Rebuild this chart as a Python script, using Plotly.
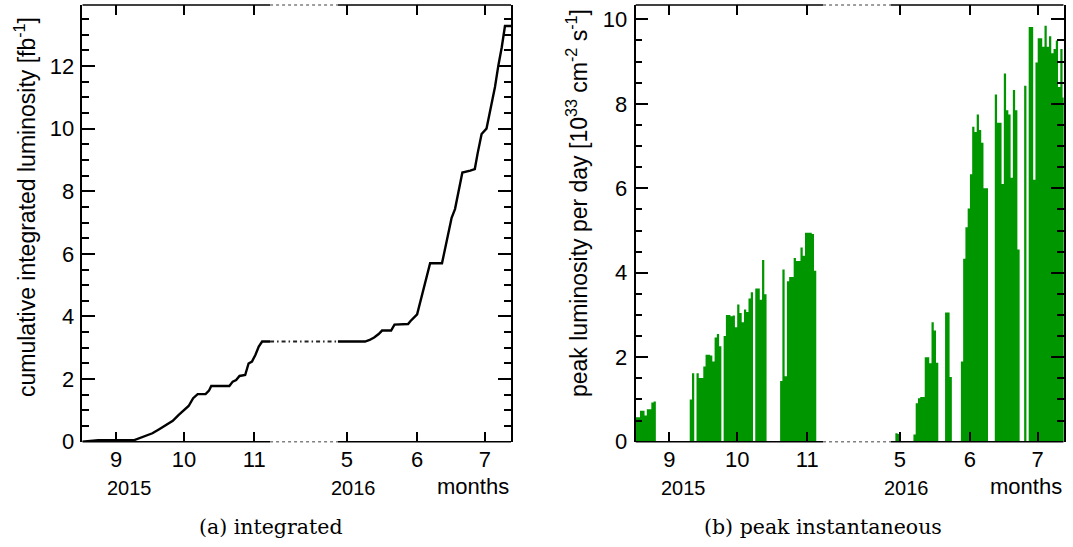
import pandas as pd
import plotly.graph_objects as go

# ------------------------------------------------------------------ data
# (a) cumulative integrated luminosity [fb^-1]
lumi_2015_dates = ["2015-08-17", "2015-08-24", "2015-09-09", "2015-09-11", "2015-09-14",
                   "2015-09-17", "2015-09-20", "2015-09-23", "2015-09-26", "2015-09-28 12:00",
                   "2015-10-01", "2015-10-03", "2015-10-05", "2015-10-07", "2015-10-10 12:00",
                   "2015-10-12", "2015-10-13", "2015-10-21", "2015-10-22 12:00", "2015-10-24",
                   "2015-10-25 12:00", "2015-10-28", "2015-10-29 12:00", "2015-10-31",
                   "2015-11-01 12:00", "2015-11-03", "2015-11-04 12:00", "2015-11-08"]
lumi_2015_vals = [0.0, 0.05, 0.05, 0.1, 0.18,
                  0.27, 0.40, 0.53, 0.67, 0.85,
                  1.01, 1.14, 1.39, 1.52, 1.52,
                  1.63, 1.78, 1.78, 1.92, 1.97,
                  2.10, 2.13, 2.50, 2.56,
                  2.77, 3.04, 3.20, 3.20]

lumi_2016_dates = ["2016-04-27", "2016-05-09", "2016-05-11", "2016-05-13", "2016-05-15",
                   "2016-05-16 12:00", "2016-05-20 12:00", "2016-05-22", "2016-05-28",
                   "2016-05-29", "2016-06-01", "2016-06-02 06:00", "2016-06-03 18:00",
                   "2016-06-05 06:00", "2016-06-06 18:00", "2016-06-12", "2016-06-13 12:00",
                   "2016-06-14 18:00", "2016-06-16 06:00", "2016-06-17 18:00", "2016-06-19 06:00",
                   "2016-06-21", "2016-06-24 12:00", "2016-06-26 12:00", "2016-06-27 18:00",
                   "2016-06-29 12:00", "2016-07-01 16:00", "2016-07-03 04:00", "2016-07-05 10:00",
                   "2016-07-06 22:00", "2016-07-08 10:00", "2016-07-09 20:00", "2016-07-12 12:00"]
lumi_2016_vals = [3.20, 3.20, 3.25, 3.33, 3.44,
                  3.55, 3.55, 3.74, 3.76,
                  3.85, 4.07, 4.42, 4.92,
                  5.31, 5.70, 5.70, 6.20,
                  6.65, 7.15, 7.43, 7.93,
                  8.60, 8.66, 8.71, 9.21,
                  9.83, 10.0, 10.55, 11.33,
                  12.02, 12.60, 13.28, 13.28]

# (b) peak luminosity per day [10^33 cm^-2 s^-1], one value per consecutive day
peak_2015_start = "2015-08-17"
peak_2015_vals = [0.58, 0.58, 0.73, 0.73, 0.62, 0.77, 0.77, 0.93, 0.95,           # Aug 17-25
                  0, 0, 0, 0, 0, 0,                                                  # Aug 26-31
                  0, 0, 0, 0, 0, 0, 0, 0, 0,                                         # Sep 1-9
                  1.00, 1.62, 0, 1.62, 1.51, 1.51, 1.78, 2.06, 2.06, 2.04, 1.90,     # Sep 10-20
                  2.47, 2.55, 2.26, 0, 2.50, 3.00, 3.00, 2.97, 2.99, 2.71,           # Sep 21-30
                  3.25, 3.05, 2.83, 3.13, 3.07, 3.39, 3.54, 0, 3.63, 3.63,           # Oct 1-10
                  3.36, 4.30, 3.49, 0, 0, 0, 0, 0, 0, 1.44,                          # Oct 11-20
                  4.08, 1.55, 3.80, 3.90, 3.90, 4.35, 4.28, 4.28, 4.60, 4.40, 4.95,  # Oct 21-31
                  4.95, 4.95, 4.92, 4.05]                                            # Nov 1-4
peak_2016_start = "2016-04-29"
peak_2016_vals = [0.20, 0.18,                                                        # Apr 29-30
                  0, 0, 0, 0, 0, 0, 0.17, 0.91, 1.03, 1.06,                          # May 1-10
                  1.06, 2.00, 2.00, 1.86, 2.83, 2.63, 1.87, 0, 0, 0,                 # May 11-20
                  3.06, 3.06, 1.53, 0, 0, 0, 0, 1.90, 4.33, 5.08, 5.52,              # May 21-31
                  6.33, 7.46, 7.33, 7.75, 7.38, 7.08, 6.00, 6.00, 0, 0,              # Jun 1-10
                  0, 8.22, 7.55, 7.55, 6.10, 8.72, 7.85, 7.75, 6.25, 8.33,           # Jun 11-20
                  7.85, 4.55, 0, 0, 8.43, 0, 9.82, 9.82, 6.20, 8.98,                 # Jun 21-30
                  9.55, 9.55, 9.35, 9.85, 9.35, 9.60, 9.20, 9.30, 9.50, 8.40,        # Jul 1-10
                  9.30, 8.15]                                                        # Jul 11-12

month_tick_dates = ["2015-09-01", "2015-10-01", "2015-11-01", "2016-05-01", "2016-06-01", "2016-07-01"]
month_tick_labels = ["9", "10", "11", "5", "6", "7"]

x_range = ["2015-08-17", "2016-07-12 12:00"]
gap_start, gap_end = "2015-11-08", "2016-04-27"
hidden_break = ["2015-12-08", "2016-04-27"]

# ------------------------------------------------------------------ layout helpers
W, H = 1073, 547
def fx(p):
    return p / W
def fy(p):
    return 1 - p / H

SANS = "Liberation Sans, Arial, Helvetica, sans-serif"
GREEN = "#009600"

fig = go.Figure()

# (a) integrated
fig.add_trace(go.Scatter(x=lumi_2015_dates, y=lumi_2015_vals, mode="lines",
                         line=dict(color="black", width=2.4), xaxis="x", yaxis="y",
                         showlegend=False, hoverinfo="skip"))
fig.add_trace(go.Scatter(x=[gap_start, gap_end], y=[lumi_2015_vals[-1], lumi_2016_vals[0]],
                         mode="lines", line=dict(color="#222", width=2, dash="4px,3px,1.5px,3px"),
                         xaxis="x", yaxis="y", showlegend=False, hoverinfo="skip"))
fig.add_trace(go.Scatter(x=lumi_2016_dates, y=lumi_2016_vals, mode="lines",
                         line=dict(color="black", width=2.4), xaxis="x", yaxis="y",
                         showlegend=False, hoverinfo="skip"))

# (b) peak: daily histogram drawn as a filled step outline (bin edges at midnight)
for start, vals in ((peak_2015_start, peak_2015_vals), (peak_2016_start, peak_2016_vals)):
    edges = pd.date_range(start, periods=len(vals) + 1, freq="D")
    fig.add_trace(go.Scatter(x=list(edges), y=list(vals) + [vals[-1]], mode="lines",
                             line=dict(shape="hv", width=0, color=GREEN),
                             fill="tozeroy", fillcolor=GREEN,
                             xaxis="x2", yaxis="y2", showlegend=False, hoverinfo="skip"))

ydom = [fy(441.7), fy(5)]
xdomA = [fx(82.3), fx(511)]
xdomB = [fx(635.5), fx(1063.7)]

def xaxis_cfg(domain, anchor):
    return dict(domain=domain, anchor=anchor, type="date", range=x_range,
                rangebreaks=[dict(bounds=hidden_break)],
                tickmode="array", tickvals=month_tick_dates, ticktext=month_tick_labels,
                ticks="inside", ticklen=10, tickwidth=1.5, tickcolor="black",
                mirror="ticks", showline=False, showgrid=False, zeroline=False,
                tickfont=dict(family=SANS, size=22, color="black"),
                ticklabelstandoff=2, automargin=False, fixedrange=True)

def yaxis_cfg(anchor, ymax):
    return dict(domain=ydom, anchor=anchor, range=[0, ymax], dtick=2, tick0=0,
                ticks="inside", ticklen=13, tickwidth=1.5, tickcolor="black",
                minor=dict(dtick=0.5, ticks="inside", ticklen=7, tickwidth=1.5, tickcolor="black",
                           showgrid=False),
                showline=True, linewidth=1.5, linecolor="black", mirror="ticks",
                showgrid=False, zeroline=False,
                tickfont=dict(family=SANS, size=22, color="black"),
                ticklabelstandoff=2, automargin=False, fixedrange=True)

fig.update_layout(
    template="none",
    width=W, height=H, autosize=False, margin=dict(l=0, r=0, t=0, b=0, pad=0, autoexpand=False),
    paper_bgcolor="white", plot_bgcolor="white", showlegend=False,
    xaxis=xaxis_cfg(xdomA, "y"), yaxis=yaxis_cfg("x", 13.95),
    xaxis2=xaxis_cfg(xdomB, "y2"), yaxis2=yaxis_cfg("x2", 10.34),
)

# frame lines along top/bottom with dotted gap
shapes = []
for xr, yr in (("x", "y domain"), ("x2", "y2 domain")):
    for yv in (0, 1):
        shapes.append(dict(type="line", xref=xr, yref=yr, x0=x_range[0], x1=gap_start, y0=yv, y1=yv,
                           line=dict(color="black", width=1.5)))
        shapes.append(dict(type="line", xref=xr, yref=yr, x0=gap_start, x1=gap_end, y0=yv, y1=yv,
                           line=dict(color="#808080", width=1.5, dash="3px,3px")))
        shapes.append(dict(type="line", xref=xr, yref=yr, x0=gap_end, x1=x_range[1], y0=yv, y1=yv,
                           line=dict(color="black", width=1.5)))
fig.update_layout(shapes=shapes)

ann = []
def text(x, y, s, size, xanchor="center", yanchor="middle", family=SANS, angle=0):
    ann.append(dict(x=fx(x), y=fy(y), xref="paper", yref="paper", text=s, showarrow=False,
                    xanchor=xanchor, yanchor=yanchor, textangle=angle,
                    font=dict(family=family, size=size, color="black")))

text(129.7, 488.3, "2015", 20)
text(353, 488.3, "2016", 20)
text(511, 486, "months", 22, xanchor="right")
text(683, 488.3, "2015", 20)
text(906.3, 488.3, "2016", 20)
text(1063.5, 486, "months", 22, xanchor="right")

text(25, 15, "cumulative integrated luminosity [fb<sup>-1</sup>]", 23, yanchor="top", angle=-90)
text(577, 7, "peak luminosity per day [10<sup>33</sup> cm<sup>-2</sup> s<sup>-1</sup>]", 23,
     yanchor="top", angle=-90)

SERIF = "DejaVu Serif, Liberation Serif, serif"
text(271, 527, "(a) integrated", 20.5, family=SERIF)
text(823, 527, "(b) peak instantaneous", 20.5, family=SERIF)

fig.update_layout(annotations=ann)

fig.write_html("out.html", config={"displayModeBar": False})
